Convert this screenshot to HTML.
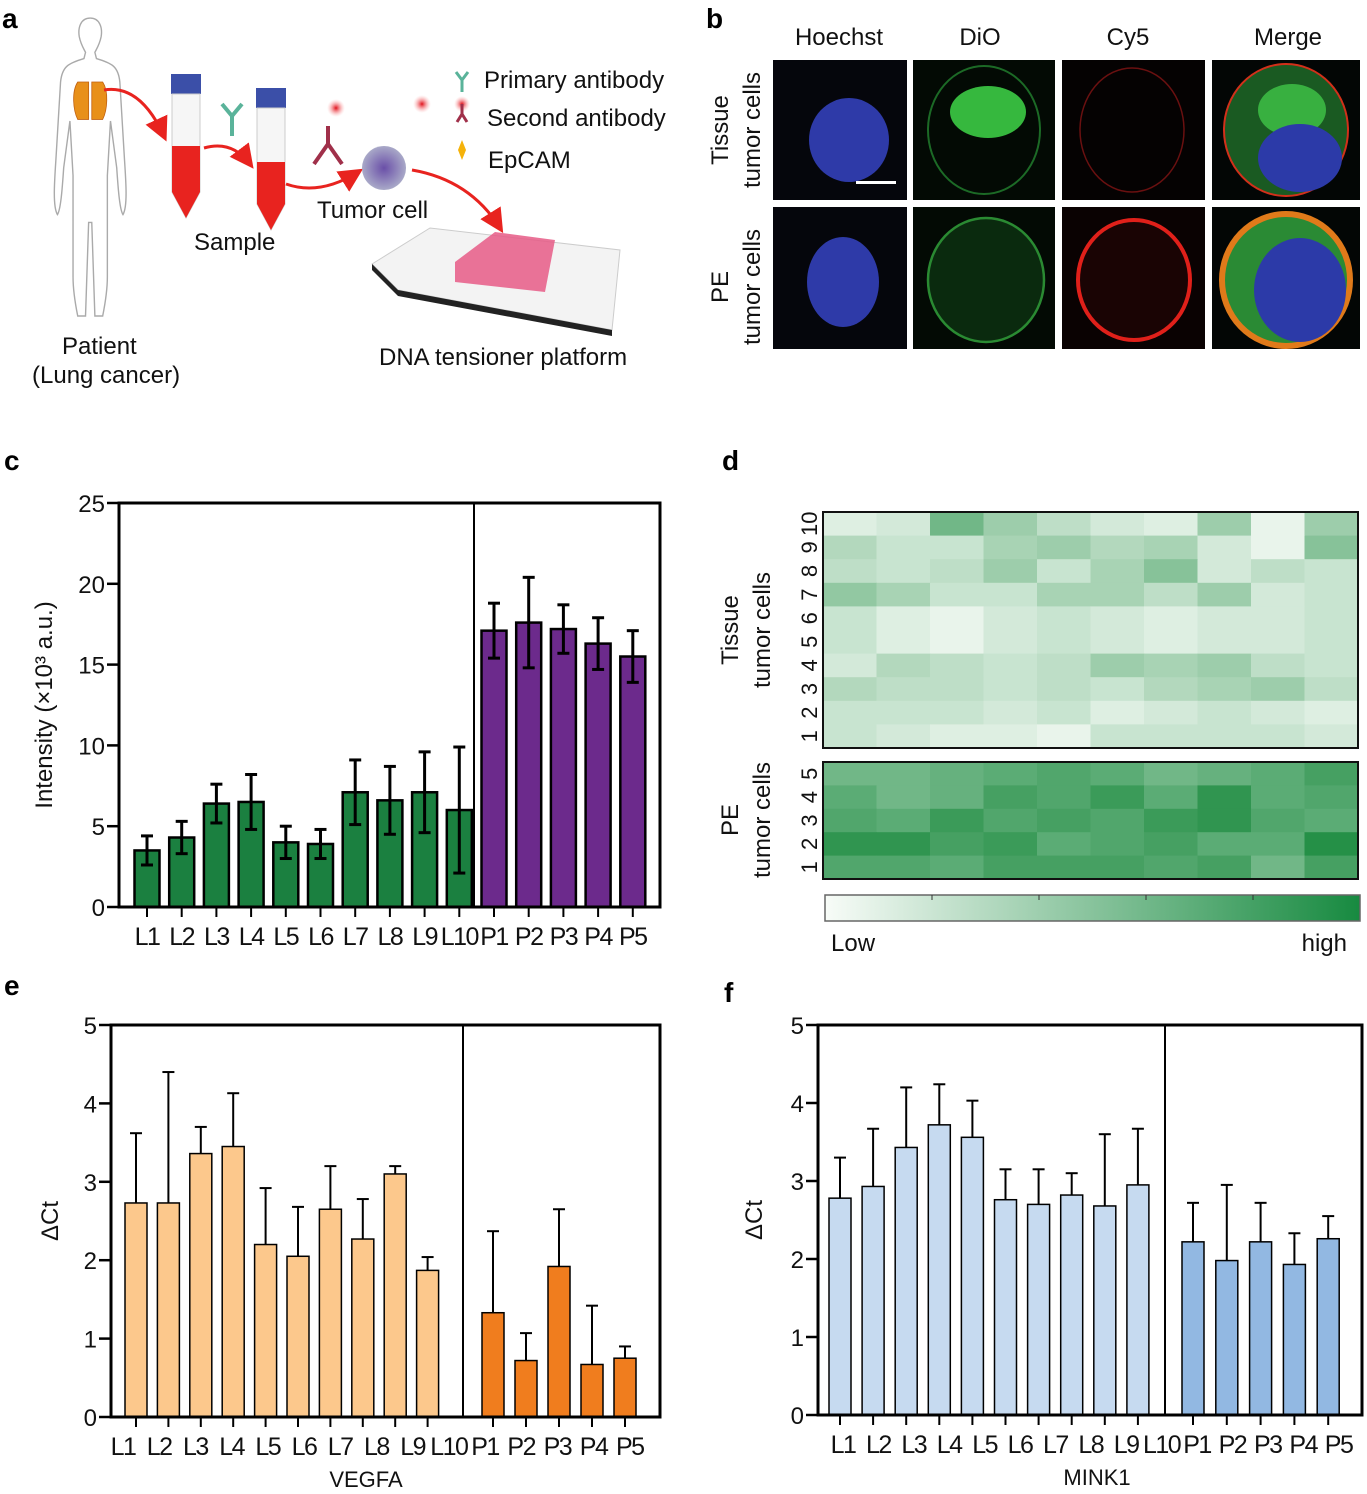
<!DOCTYPE html>
<html><head><meta charset="utf-8"><style>
html,body{margin:0;padding:0;background:#fff;}
svg{display:block;font-family:"Liberation Sans",Arial,sans-serif;}
</style></head><body>
<svg id="fig" width="1367" height="1494" viewBox="0 0 1367 1494" xmlns="http://www.w3.org/2000/svg">
<defs>
<marker id="ah" markerWidth="8" markerHeight="8" refX="6" refY="4" orient="auto"><path d="M0,0 L8,4 L0,8 z" fill="#e8231f"/></marker>
<radialGradient id="cellg"><stop offset="0" stop-color="#6a4fa8"/><stop offset="1" stop-color="#a9a9c8"/></radialGradient>
<radialGradient id="glow"><stop offset="0" stop-color="#e0101a"/><stop offset="1" stop-color="#ffb0b0" stop-opacity="0"/></radialGradient>
</defs>
<g font-weight="bold" font-size="28">
<text x="2" y="28">a</text><text x="706" y="28">b</text><text x="4" y="470">c</text><text x="722" y="470">d</text><text x="4" y="995">e</text><text x="724" y="1002">f</text>
</g>
<g id="panelA">
<g transform="translate(20,4) scale(0.78)">
<path d="M90,18 c-12,0 -16,12 -14,24 c2,10 6,16 8,20 l-2,8 c-20,6 -28,10 -30,30 l-6,100 c-2,30 -4,60 2,70 c4,-6 6,-30 8,-60 l8,-60 l4,70 l0,130 c0,20 4,40 6,50 l10,0 l4,-120 l4,0 l4,120 l10,0 c2,-10 6,-30 6,-50 l0,-130 l4,-70 l8,60 c2,30 4,54 8,60 c6,-10 4,-40 2,-70 l-6,-100 c-2,-20 -10,-24 -30,-30 l-2,-8 c2,-4 6,-10 8,-20 c2,-12 -2,-24 -14,-24z" fill="#fff" stroke="#aaa" stroke-width="1.8"/>
<path d="M74,100 c-8,12 -6,36 0,48 l14,0 l0,-48z M106,100 c8,12 6,36 0,48 l-14,0 l0,-48z" fill="#e8901a" stroke="#c06010"/>
</g>
<path d="M104,90 Q140,84 164,136" fill="none" stroke="#e8231f" stroke-width="3" marker-end="url(#ah)"/>
<rect x="171" y="74" width="30" height="20" fill="#3b4fa8"/>
<path d="M172,94 l28,0 l0,98 l-14,26 l-14,-26z" fill="#f6f6f6" stroke="#ccc"/>
<path d="M172,146 l28,0 l0,46 l-14,26 l-14,-26z" fill="#e8231f"/>
<rect x="256" y="88" width="30" height="20" fill="#3b4fa8"/>
<path d="M257,108 l28,0 l0,96 l-14,26 l-14,-26z" fill="#f6f6f6" stroke="#ccc"/>
<path d="M257,162 l28,0 l0,42 l-14,26 l-14,-26z" fill="#e8231f"/>
<path d="M204,148 Q232,140 250,164" fill="none" stroke="#e8231f" stroke-width="3" marker-end="url(#ah)"/>
<path d="M286,184 Q320,196 358,172" fill="none" stroke="#e8231f" stroke-width="3" marker-end="url(#ah)"/>
<path d="M412,170 Q470,180 500,228" fill="none" stroke="#e8231f" stroke-width="3" marker-end="url(#ah)"/>
<path d="M222,104 l10,12 l10,-12 M232,116 l0,20" stroke="#5ab39a" stroke-width="4" fill="none"/>
<path d="M314,164 l14,-20 l14,20 M328,144 l0,-18" stroke="#a0304a" stroke-width="4" fill="none"/>
<circle cx="336" cy="108" r="9" fill="url(#glow)"/>
<circle cx="384" cy="168" r="22" fill="url(#cellg)"/>
<circle cx="422" cy="104" r="9" fill="url(#glow)"/>
<path d="M456,72 l6,8 l6,-8 M462,80 l0,12" stroke="#5ab39a" stroke-width="3" fill="none"/>
<circle cx="462" cy="104" r="8" fill="url(#glow)"/>
<path d="M462,104 l0,10 l-5,8 M462,114 l5,8" stroke="#a0304a" stroke-width="3" fill="none"/>
<path d="M462,140 l4,10 l-4,10 l-4,-10z" fill="#f5b20a"/>
<path d="M372,264 L430,228 L620,250 L612,330 L398,290z" fill="#f3f3f3" stroke="#ccc"/>
<path d="M372,264 L398,290 L612,330 L612,336 L398,296 L372,270z" fill="#222"/>
<g><path d="M455,262 L495,232 L555,240 L545,292 L455,282z" fill="#e65a86" opacity="0.85"/></g>
<g font-size="24" fill="#111">
<text x="484" y="88">Primary antibody</text>
<text x="487" y="126">Second antibody</text>
<text x="488" y="168">EpCAM</text>
<text x="317" y="218">Tumor cell</text>
<text x="194" y="250">Sample</text>
<text x="62" y="354">Patient</text>
<text x="32" y="383">(Lung cancer)</text>
<text x="379" y="365">DNA tensioner platform</text>
</g>
</g>
<g id="panelB">
<g font-size="24" fill="#111" text-anchor="middle">
<text x="839" y="45">Hoechst</text><text x="980" y="45">DiO</text><text x="1128" y="45">Cy5</text><text x="1288" y="45">Merge</text>
<text transform="translate(728,130) rotate(-90)">Tissue</text>
<text transform="translate(760,130) rotate(-90)">tumor cells</text>
<text transform="translate(728,287) rotate(-90)">PE</text>
<text transform="translate(760,287) rotate(-90)">tumor cells</text>
</g>
<rect x="773" y="60" width="134" height="140" fill="#05060c"/><rect x="913" y="60" width="142" height="140" fill="#030a04"/><rect x="1062" y="60" width="143" height="140" fill="#050202"/><rect x="1212" y="60" width="148" height="140" fill="#030605"/>
<rect x="773" y="207" width="134" height="142" fill="#05060c"/><rect x="913" y="207" width="142" height="142" fill="#030a04"/><rect x="1062" y="207" width="143" height="142" fill="#0a0202"/><rect x="1212" y="207" width="148" height="142" fill="#030605"/>
<ellipse cx="849" cy="140" rx="40" ry="42" fill="#2e3aa8"/>
<rect x="856" y="181" width="40" height="3" fill="#fff"/>
<ellipse cx="984" cy="130" rx="56" ry="64" fill="none" stroke="#1c6a26" stroke-width="2"/>
<ellipse cx="988" cy="112" rx="38" ry="26" fill="#36b83e"/>
<ellipse cx="1132" cy="130" rx="52" ry="62" fill="none" stroke="#6a1010" stroke-width="1.5"/>
<ellipse cx="1286" cy="130" rx="62" ry="66" fill="#1a5a22" stroke="#d2301a" stroke-width="2"/>
<ellipse cx="1292" cy="110" rx="34" ry="26" fill="#38b040"/>
<ellipse cx="1300" cy="158" rx="42" ry="34" fill="#2c3aa8"/>
<ellipse cx="843" cy="282" rx="36" ry="45" fill="#2e3aa8"/>
<ellipse cx="986" cy="280" rx="58" ry="62" fill="#0a2a0e" stroke="#2a8a32" stroke-width="2.5"/>
<ellipse cx="1134" cy="280" rx="56" ry="60" fill="#1a0404" stroke="#e0201a" stroke-width="4"/>
<ellipse cx="1286" cy="280" rx="64" ry="66" fill="#2a8a34" stroke="#e07a1a" stroke-width="6"/>
<ellipse cx="1300" cy="290" rx="46" ry="52" fill="#2c3aa8"/>
</g>
<g id="panelC"></g>
<g id="panelD"></g>
<g id="panelE"></g>
<g id="panelF"></g>
</svg>
<script>
const NS='http://www.w3.org/2000/svg';
const catsC=['L1','L2','L3','L4','L5','L6','L7','L8','L9','L10','P1','P2','P3','P4','P5'];
const valC=[3.5,4.3,6.4,6.5,4.0,3.9,7.1,6.6,7.1,6.0,17.1,17.6,17.2,16.3,15.5];
const errC=[0.9,1.0,1.2,1.7,1.0,0.9,2.0,2.1,2.5,3.9,1.7,2.8,1.5,1.6,1.6];
const ticksC=[0,5,10,15,20,25];
const valE=[2.73,2.73,3.36,3.45,2.2,2.05,2.65,2.27,3.1,1.87,1.33,0.72,1.92,0.67,0.75];
const topE=[3.62,4.4,3.7,4.13,2.92,2.68,3.2,2.78,3.2,2.04,2.37,1.07,2.65,1.42,0.9];
const valF=[2.78,2.93,3.43,3.72,3.56,2.76,2.7,2.82,2.68,2.95,2.22,1.98,2.22,1.93,2.26];
const topF=[3.3,3.67,4.2,4.24,4.03,3.15,3.15,3.1,3.6,3.67,2.72,2.95,2.72,2.33,2.55];
const ticksEF=[0,1,2,3,4,5];
const heatTissue=[
[.1,.15,.6,.4,.25,.15,.1,.4,.05,.4],
[.3,.2,.2,.35,.4,.3,.35,.15,.05,.5],
[.25,.2,.25,.4,.2,.35,.5,.15,.25,.2],
[.45,.35,.2,.2,.35,.35,.25,.4,.15,.2],
[.2,.1,.05,.15,.2,.15,.1,.15,.15,.2],
[.2,.1,.05,.15,.2,.15,.1,.15,.15,.2],
[.15,.3,.25,.2,.25,.4,.35,.4,.25,.2],
[.3,.25,.25,.2,.25,.2,.3,.35,.4,.25],
[.2,.2,.2,.15,.2,.1,.15,.2,.15,.1],
[.2,.15,.1,.1,.05,.2,.2,.2,.2,.15]];
const heatPE=[
[.6,.6,.65,.7,.75,.7,.6,.65,.7,.8],
[.7,.6,.65,.8,.75,.85,.7,.9,.7,.75],
[.75,.7,.85,.75,.8,.75,.85,.9,.75,.7],
[.9,.9,.8,.85,.7,.75,.8,.7,.7,.95],
[.75,.75,.7,.8,.8,.8,.75,.8,.6,.8]];
const tLabels=['10','9','8','7','6','5','4','3','2','1'];
const pLabels=['5','4','3','2','1'];
function el(t,a,p,txt){const e=document.createElementNS(NS,t);for(const k in a)e.setAttribute(k,a[k]);if(txt!==undefined)e.textContent=txt;p.appendChild(e);return e;}
function barChart(g,o){
  const y=v=>o.y0-(v-o.min)/(o.max-o.min)*(o.y0-o.y1);
  const x=i=>i<10?o.lx+i*o.ls:o.px+(i-10)*o.ps;
  const lxp=i=>o.labX0+i*o.labS;
  const bw=o.bw;
  o.cats.forEach((c,i)=>{
    const v=o.vals[i];
    const r=el('rect',{x:x(i)-bw/2,y:y(v),width:bw,height:y(o.min)-y(v),fill:i<10?o.c1:o.c2,stroke:'#000','stroke-width':o.sw},g);
    
    
    el('line',{x1:x(i),x2:x(i),y1:o.y0,y2:o.y0+10,stroke:'#000','stroke-width':2},g);
    const t=el('text',{x:lxp(i),y:o.y0+38,'font-size':25,'text-anchor':'middle',fill:'#111','letter-spacing':'-1.5'},g,c);
    
    
  });
  o.cats.forEach((c,i)=>{
    const top=o.tops[i];
    const ln=el('line',{x1:x(i),x2:x(i),y1:y(o.vals[i]),y2:y(top),stroke:'#000','stroke-width':o.ew},g);
    
    
    el('line',{x1:x(i)-6,x2:x(i)+6,y1:y(top),y2:y(top),stroke:'#000','stroke-width':o.ew},g);
    if(o.bottoms){el('line',{x1:x(i),x2:x(i),y1:y(o.vals[i]),y2:y(o.bottoms[i]),stroke:'#000','stroke-width':o.ew},g);
      el('line',{x1:x(i)-6,x2:x(i)+6,y1:y(o.bottoms[i]),y2:y(o.bottoms[i]),stroke:'#000','stroke-width':o.ew},g);}
  });
  const fr=el('rect',{x:o.x0,y:o.y1,width:o.x1-o.x0,height:o.y0-o.y1,fill:'none',stroke:'#000','stroke-width':3},g);
  
  
  el('line',{x1:o.div,x2:o.div,y1:o.y1,y2:o.y0,stroke:'#000','stroke-width':2},g);
  o.ticks.forEach(t=>{
    el('line',{x1:o.x0-12,x2:o.x0,y1:y(t),y2:y(t),stroke:'#000','stroke-width':2.5},g);
    const tt=el('text',{x:o.x0-14,y:y(t)+9,'font-size':24,'text-anchor':'end',fill:'#111'},g,String(t));
    
    
  });
  const yl=el('text',{transform:`translate(${o.ylx},${(o.y0+o.y1)/2}) rotate(-90)`,'font-size':24,'text-anchor':'middle',fill:'#111'},g,o.ylabel);
  
  
  if(o.xlabel){const xl=el('text',{x:o.xlx,y:o.y0+70,'font-size':22,'text-anchor':'middle',fill:'#111'},g,o.xlabel);
    
    }
}
barChart(document.getElementById('panelC'),{cats:catsC,vals:valC,tops:valC.map((v,i)=>v+errC[i]),bottoms:valC.map((v,i)=>v-errC[i]),min:0,max:25,x0:119,x1:660,y0:907,y1:503,div:474,lx:147,ls:34.7,px:494,ps:34.7,bw:25,labX0:147,labS:34.7,c1:'#1b8040',c2:'#6c2a8c',sw:2.5,ew:3,ticks:ticksC,ylx:52,ylabel:'Intensity (×10³ a.u.)'});
barChart(document.getElementById('panelE'),{cats:catsC,vals:valE,tops:topE,min:0,max:5,x0:111,x1:660,y0:1417,y1:1025,div:463,lx:136,ls:32.4,px:493,ps:33,bw:22,labX0:123,labS:36.2,c1:'#fcc88c',c2:'#f07d1e',sw:1.5,ew:2,ticks:ticksEF,ylx:58,ylabel:'ΔCt',xlabel:'VEGFA',xlx:366});
barChart(document.getElementById('panelF'),{cats:catsC,vals:valF,tops:topF,min:0,max:5,x0:818,x1:1362,y0:1415,y1:1025,div:1165,lx:840,ls:33.1,px:1193,ps:33.8,bw:22,labX0:843,labS:35.4,c1:'#c6daf0',c2:'#92b8e2',sw:1.5,ew:2,ticks:ticksEF,ylx:762,ylabel:'ΔCt',xlabel:'MINK1',xlx:1097});
(function(){
  const g=document.getElementById('panelD');
  const col=v=>{const a=[244,250,244],b=[26,138,62];return `rgb(${a.map((c,i)=>Math.round(c+(b[i]-c)*v)).join(',')})`;};
  const x0=823,x1=1358,cw=(x1-x0)/10;
  function block(data,labels,y0,y1,name){
    const rh=(y1-y0)/data.length;
    data.forEach((row,r)=>row.forEach((v,c)=>{
      const e=el('rect',{x:x0+c*cw,y:y0+r*rh,width:cw+0.5,height:rh+0.5,fill:col(v)},g);
      
      
    }));
    el('rect',{x:x0,y:y0,width:x1-x0,height:y1-y0,fill:'none',stroke:'#111','stroke-width':2},g);
    labels.forEach((l,r)=>{
      const t=el('text',{transform:`translate(${x0-6},${y0+(r+0.5)*rh}) rotate(-90)`,'font-size':22,'text-anchor':'middle',fill:'#111'},g,l);
      
      
    });
  }
  block(heatTissue,tLabels,512,748,'tissue');
  block(heatPE,pLabels,762,879,'pe');
  const lab=[['Tissue',738,630],['tumor cells',770,630],['PE',738,820],['tumor cells',770,820]];
  lab.forEach(a=>{const t=el('text',{transform:`translate(${a[1]},${a[2]}) rotate(-90)`,'font-size':24,'text-anchor':'middle',fill:'#111'},g,a[0]);
    
    });
  const defs=document.querySelector('defs');
  const lg=el('linearGradient',{id:'cb'},defs);
  el('stop',{offset:0,'stop-color':'#f8fcf8'},lg);el('stop',{offset:1,'stop-color':'#178a40'},lg);
  const cb=el('rect',{x:825,y:895,width:535,height:26,fill:'url(#cb)',stroke:'#666','stroke-width':1.5},g);
  
  
  [932,1039,1146,1253].forEach(xx=>el('line',{x1:xx,x2:xx,y1:895,y2:900,stroke:'#333'},g));
  const lo=el('text',{x:831,y:951,'font-size':24,fill:'#111'},g,'Low');
  
  
  const hi=el('text',{x:1347,y:951,'font-size':24,fill:'#111','text-anchor':'end'},g,'high');
  
  
})();
</script>
</body></html>
